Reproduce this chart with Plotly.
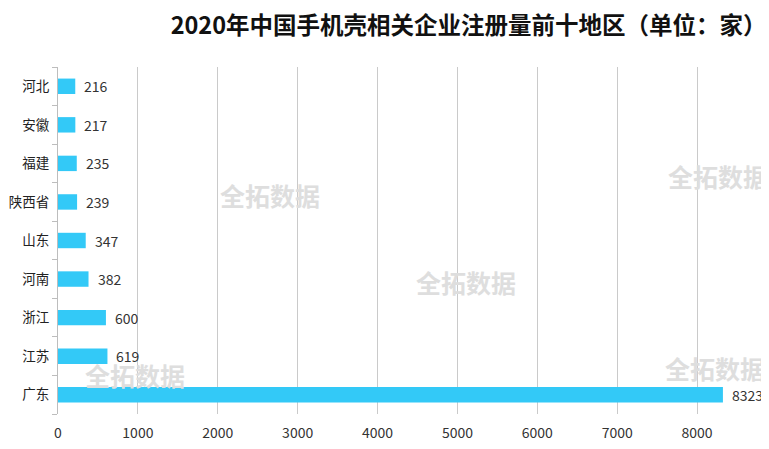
import plotly.graph_objects as go

regions = ["广东", "江苏", "浙江", "河南", "山东", "陕西省", "福建", "安徽", "河北"]
counts = [8323, 619, 600, 382, 347, 239, 235, 217, 216]
x_ticks = [0, 1000, 2000, 3000, 4000, 5000, 6000, 7000, 8000, 9000]
title_text = "2020年中国手机壳相关企业注册量前十地区（单位：家）"
watermark = "全拓数据"

FONT = "Noto Sans CJK SC, Microsoft YaHei, sans-serif"

fig = go.Figure(go.Bar(
    y=regions, x=counts, orientation="h",
    marker=dict(color="#33c9f7", line=dict(width=0)),
    width=0.4,
))

annotations = [dict(text=str(v), x=v, y=r, xref="x", yref="y", xanchor="left",
                    yanchor="middle", xshift=7, showarrow=False,
                    font=dict(size=14, color="#333333", family=FONT))
               for r, v in zip(regions, counts)]

wm_pos = [(0.295, 0.631), (0.567, 0.380), (0.918, 0.686), (0.914, 0.133), (0.107, 0.112)]
annotations += [dict(text=watermark, xref="paper", yref="paper", x=px, y=py,
                     xanchor="center", yanchor="middle",
                     showarrow=False, font=dict(size=25, color="#dedede", family=FONT,
                                                weight="bold"))
                for px, py in wm_pos]

fig.update_layout(
    width=769, height=449,
    margin=dict(l=50, r=0, t=59, b=43),
    paper_bgcolor="white", plot_bgcolor="white",
    title=dict(text=title_text, x=0.599, xanchor="center", y=0.96, yanchor="middle",
               font=dict(size=23.5, color="#111111", family=FONT, weight="bold")),
    xaxis=dict(range=[0, 9000], tickvals=x_ticks, showgrid=True, gridcolor="#cacaca",
               gridwidth=1, zeroline=False, showline=False, automargin=False,
               ticklabelstandoff=9,
               tickfont=dict(size=14, color="#333333", family=FONT)),
    yaxis=dict(categoryorder="array", categoryarray=regions, showline=True,
               linecolor="#bdbdbd", ticks="outside", tickson="boundaries", ticklen=5,
               tickcolor="#bdbdbd", showgrid=False, automargin=False,
               ticklabelstandoff=5,
               tickfont=dict(size=13.5, color="#222222", family=FONT)),
    annotations=annotations,
    showlegend=False,
    bargap=0.6,
)

fig.write_html("out.html")
